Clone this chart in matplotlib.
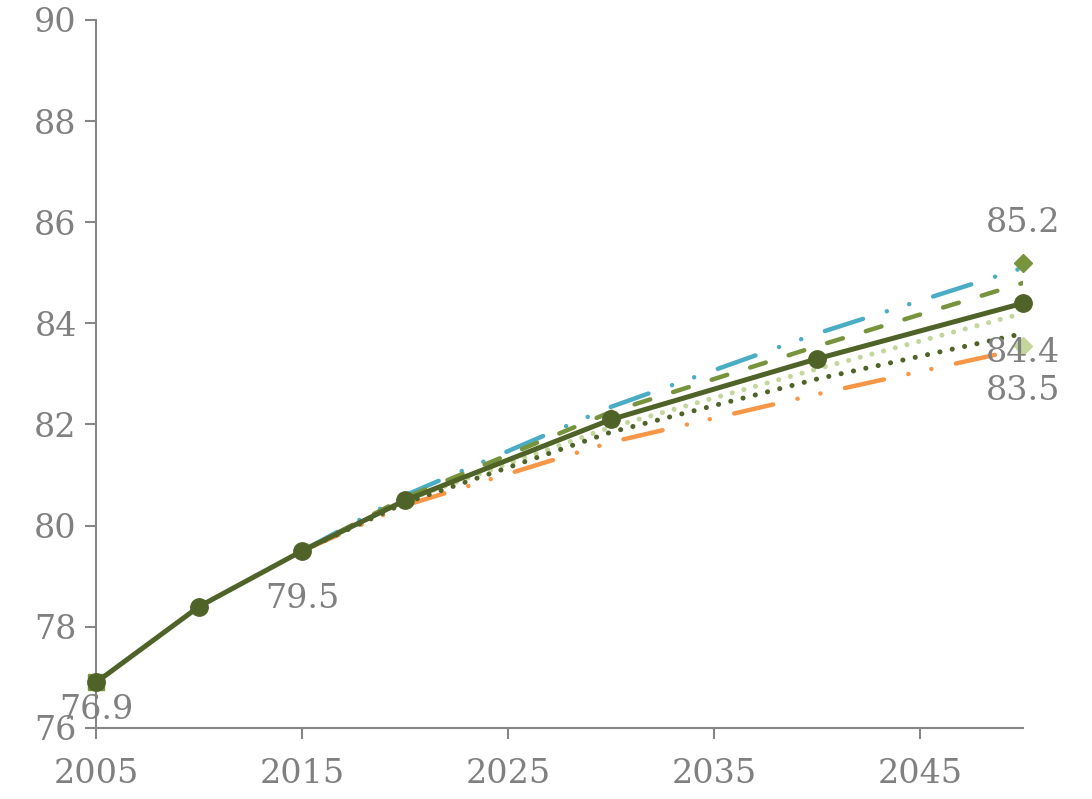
import matplotlib
matplotlib.use("Agg")
import matplotlib.pyplot as plt

years_main = [2005, 2010, 2015, 2020, 2030, 2040, 2050]
main = [76.9, 78.4, 79.5, 80.5, 82.1, 83.3, 84.4]

years_scen = [2015, 2020, 2030, 2040, 2050]
blue = [79.5, 80.6, 82.35, 83.8, 85.1]
green = [79.5, 80.55, 82.25, 83.55, 84.8]
light = [79.5, 80.5, 81.95, 83.1, 84.2]
dark_dot = [79.5, 80.45, 81.85, 82.9, 83.8]
orange = [79.5, 80.4, 81.65, 82.6, 83.5]

high_point = (2050, 85.2)
low_point = (2050, 83.55)

xticks = [2005, 2015, 2025, 2035, 2045]
yticks = [76, 78, 80, 82, 84, 86, 88, 90]

gray = "#808080"
c_main = "#4F6228"
c_blue = "#4BACC6"
c_green = "#77933C"
c_light = "#C3D69B"
c_orange = "#F79646"

plt.rcParams["font.family"] = ["DejaVu Serif"]
plt.rcParams["lines.scale_dashes"] = False

fig = plt.figure(figsize=(10.92, 7.99), dpi=100)
ax = fig.add_axes([0.088, 0.089, 0.849, 0.886])

dashdotdot = (0, (28.8, 18, 0.1, 16.8, 0.1, 18))
ax.plot(years_scen, blue, color=c_blue, lw=3.2, linestyle=dashdotdot,
        dash_capstyle="round", zorder=2)
ax.plot(years_scen, orange, color=c_orange, lw=3.2, linestyle=dashdotdot,
        dash_capstyle="round", zorder=2)
ax.plot(years_scen, green, color=c_green, lw=3.2, linestyle=(0, (11.8, 17.3)),
        dash_capstyle="round", zorder=2)
ax.plot(years_scen, light, color=c_light, lw=3.6, linestyle=(0, (0.1, 8.6)),
        dash_capstyle="round", zorder=2)
ax.plot(years_scen, dark_dot, color=c_main, lw=3.6, linestyle=(0, (0.1, 9.0)),
        dash_capstyle="round", zorder=2)

ax.plot([years_main[0]], [main[0]], marker="s", color=c_green, ms=12, zorder=3,
        clip_on=False)
ax.plot(years_main, main, color=c_main, lw=3.6, marker="o", ms=12.5, zorder=4,
        clip_on=False)
ax.plot(*high_point, marker="D", color=c_green, ms=9, zorder=3, clip_on=False)
ax.plot(*low_point, marker="D", color=c_light, ms=9, zorder=3, clip_on=False)

fs = 24
ax.text(years_main[0], main[0] - 0.55, f"{main[0]}", color=gray, fontsize=fs,
        ha="center", va="center")
ax.text(years_main[2], main[2] - 0.95, f"{main[2]}", color=gray, fontsize=fs,
        ha="center", va="center")
ax.text(high_point[0], high_point[1] + 0.78, f"{high_point[1]}", color=gray,
        fontsize=fs, ha="center", va="center")
ax.text(years_main[-1], main[-1] - 0.98, f"{main[-1]}", color=gray, fontsize=fs,
        ha="center", va="center")
ax.text(low_point[0], low_point[1] - 0.88, "83.5", color=gray, fontsize=fs,
        ha="center", va="center")

ax.set_xlim(2005, 2050)
ax.set_ylim(76, 90)
ax.set_xticks(xticks)
ax.set_yticks(yticks)
ax.set_yticklabels([str(v) for v in yticks])

for s in ["top", "right"]:
    ax.spines[s].set_visible(False)
for s in ["left", "bottom"]:
    ax.spines[s].set_color("#868686")
    ax.spines[s].set_linewidth(1.5)
ax.tick_params(axis="both", colors="#868686", width=1.5, labelsize=fs,
               labelcolor=gray)
ax.tick_params(axis="y", length=8, pad=6)
ax.tick_params(axis="x", length=8, pad=14)

fig.savefig("out.png", dpi=100)
